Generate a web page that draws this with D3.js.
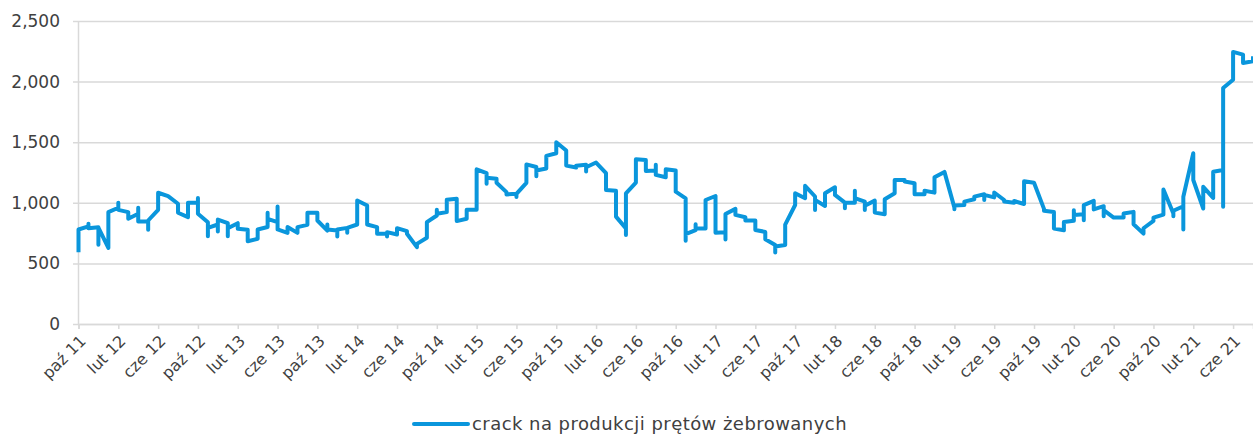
<!DOCTYPE html>
<html>
<head>
<meta charset="utf-8">
<script src="https://cdn.jsdelivr.net/npm/d3@7"></script>
<style>
  body { margin: 0; background: #fff; }
  svg text { font-family: "DejaVu Sans", sans-serif; fill: #404040; }
</style>
</head>
<body>
<svg id="chart" width="1253" height="434"></svg>
<script>
"use strict";

// months from paz 2011 to sie 2021, one entry each
var firstMonth = "2011-10";
var monthCount = 119;

// weekly readings grouped per month (excel date axis puts them on the same x)
var crackValues = [
  [592, 780], [805, 828, 790], [799, 653, 795], [628, 923], [959, 1000, 942],
  [923, 868], [909, 959, 846], [846, 777, 854], [942, 1083], [1055],
  [992, 918], [882, 1000], [1000, 1039, 909], [840, 725, 793], [821, 763, 862],
  [832, 725, 790], [832, 785], [777, 683], [703, 780], [800, 918, 868],
  [840, 970, 780], [752, 800], [752, 799], [818, 917], [917, 854],
  [771, 821, 780], [771, 722, 780], [793, 752, 793], [821, 1019], [978, 821],
  [799, 744], [744, 722, 758], [738, 791], [766, 745], [634, 661],
  [711, 840], [895, 942, 909], [923, 1025], [1033, 849], [868, 942],
  [942, 1276], [1245, 1157, 1207], [1198, 1165], [1088, 1069], [1074, 1047, 1074],
  [1165, 1317], [1295, 1220, 1267], [1283, 1387], [1409, 1500], [1431, 1307],
  [1291, 1305], [1313, 1258, 1293], [1332], [1244, 1106], [1100, 886],
  [789, 734, 1078], [1167, 1360], [1354, 1263], [1266, 1313, 1230], [1211, 1277],
  [1266, 1092], [1037, 687, 742], [775, 824, 788], [788, 1023], [1056, 753],
  [756, 698, 908], [950, 900], [881, 853], [853, 776], [760, 700],
  [652, 589, 640], [652, 820], [982, 1079], [1038, 1140], [1052, 941, 1024],
  [974, 1079], [1128, 1065], [1001, 955, 1001], [1001, 1100, 1038], [1010, 941, 975],
  [1018, 919], [906, 1029], [1079, 1189], [1189, 1175], [1161, 1071],
  [1071, 1100], [1084, 1210], [1255], [960, 946, 978], [982, 1010],
  [1029, 1051], [1070, 1023, 1065], [1045, 1085], [1023, 1010], [1001, 1015],
  [990, 1178], [1166], [950, 934], [925, 787], [773, 842],
  [851, 939, 900], [906, 856, 981], [1016, 945], [972, 889, 940], [878],
  [878, 911], [925, 823], [746, 790], [851, 878], [903, 1110],
  [911, 889, 934], [972, 779, 1050], [1409, 1188], [953, 1132], [1040, 1257],
  [1270, 967, 1947], [2016, 2245], [2223, 2154], [2168, 2209]
];

var tickLabels = ["paź 11","lut 12","cze 12","paź 12","lut 13","cze 13","paź 13","lut 14",
  "cze 14","paź 14","lut 15","cze 15","paź 15","lut 16","cze 16","paź 16","lut 17","cze 17",
  "paź 17","lut 18","cze 18","paź 18","lut 19","cze 19","paź 19","lut 20","cze 20","paź 20",
  "lut 21","cze 21"];

var yTicks = [0, 500, 1000, 1500, 2000, 2500];
var seriesName = "crack na produkcji prętów żebrowanych";
var lineColor = "#0a96dc";

var start = d3.utcParse("%Y-%m")(firstMonth);
var months = d3.utcMonth.range(start, d3.utcMonth.offset(start, monthCount));

var svg = d3.select("#chart");

var x = d3.scalePoint()
  .domain(months)
  .range([78.5, 1253]);

var y = d3.scaleLinear()
  .domain([0, 2500])
  .range([324, 21]);

// gridlines + y labels
var yAxis = d3.axisLeft(y)
  .tickValues(yTicks)
  .tickSize(1253 - 73)
  .tickFormat(d3.format(","));

svg.append("g")
  .attr("transform", "translate(1253,0)")
  .call(yAxis)
  .call(function(g) {
    g.select(".domain").remove();
    g.selectAll(".tick line").attr("stroke", "#d9d9d9").attr("stroke-width", 1.5);
    g.selectAll(".tick text")
      .attr("x", -(1253 - 60))
      .attr("font-size", "17px")
      .attr("font-family", null);
  });

// vertical axis line
svg.append("line")
  .attr("x1", x(months[0])).attr("x2", x(months[0]))
  .attr("y1", y(2500)).attr("y2", y(0))
  .attr("stroke", "#d9d9d9")
  .attr("stroke-width", 1.5);

// x axis, a tick every 4 months
var tickMonths = months.filter(function(d, i) { return i % 4 === 0; });

var xAxis = d3.axisBottom(x)
  .tickValues(tickMonths)
  .tickSize(5)
  .tickFormat(function(d, i) { return tickLabels[i]; });

svg.append("g")
  .attr("transform", "translate(0," + y(0) + ")")
  .call(xAxis)
  .call(function(g) {
    g.select(".domain").attr("stroke", "#d9d9d9").attr("stroke-width", 1.5);
    g.selectAll(".tick line").attr("stroke", "#d9d9d9").attr("stroke-width", 1.5);
    g.selectAll(".tick text")
      .attr("font-size", "16px")
      .attr("font-family", null)
      .attr("text-anchor", "end")
      .attr("x", 0).attr("y", 0).attr("dy", "0.35em")
      .attr("transform", "translate(4,14) rotate(-45)");
  });

// flatten the weekly points, each month sits on one x
var points = [];
crackValues.forEach(function(vals, i) {
  vals.forEach(function(v) {
    points.push({ month: months[i], value: v });
  });
});

var line = d3.line()
  .x(function(d) { return x(d.month); })
  .y(function(d) { return y(d.value); });

svg.append("path")
  .datum(points)
  .attr("fill", "none")
  .attr("stroke", lineColor)
  .attr("stroke-width", 4)
  .attr("stroke-linejoin", "round")
  .attr("d", line);

// legend
var legend = svg.append("g").attr("transform", "translate(414,424)");

legend.append("line")
  .attr("x1", 0).attr("x2", 54)
  .attr("stroke", lineColor)
  .attr("stroke-width", 4)
  .attr("stroke-linecap", "round");

legend.append("text")
  .attr("x", 58)
  .attr("dy", "0.35em")
  .attr("font-size", "18px")
  .attr("letter-spacing", "0.45px")
  .text(seriesName);
</script>
</body>
</html>
